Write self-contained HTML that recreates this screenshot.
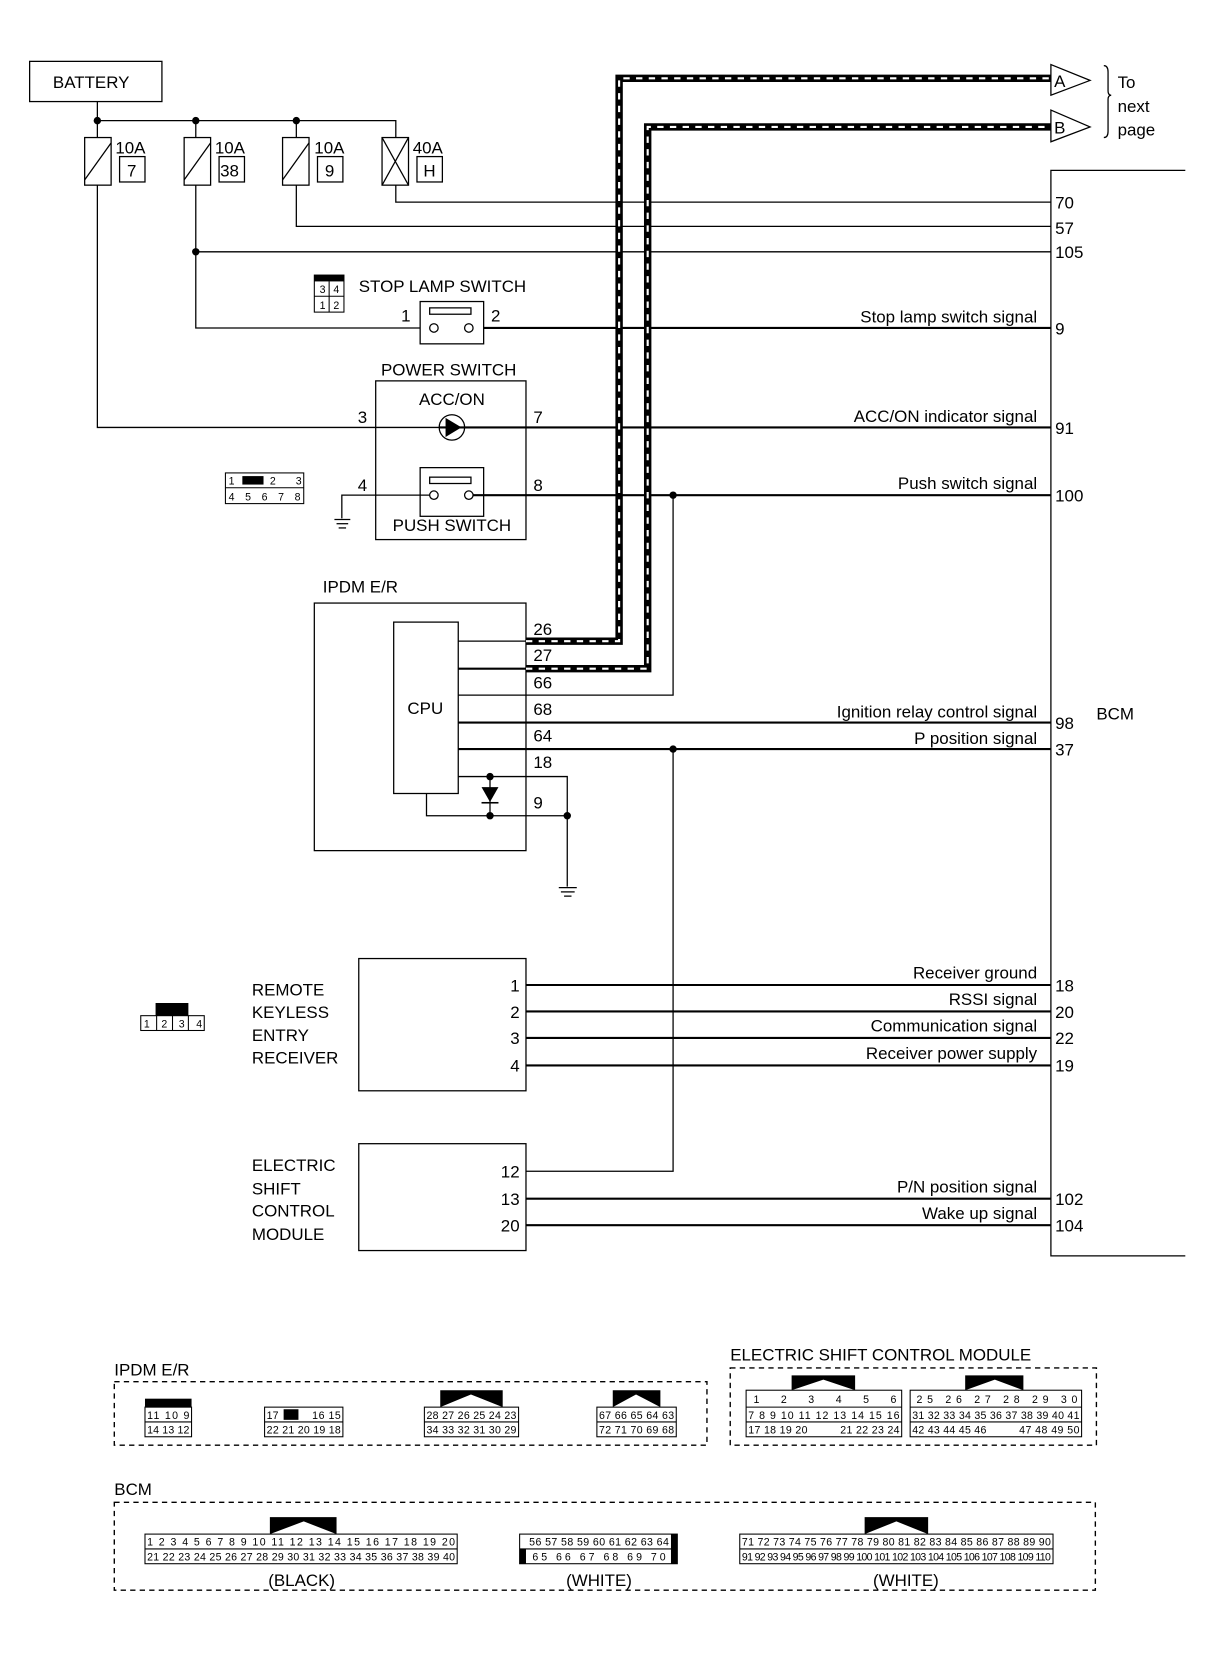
<!DOCTYPE html>
<html><head><meta charset="utf-8"><style>
html,body{margin:0;padding:0;background:#fff}
svg{display:block}
text{font-family:"Liberation Sans",Arial,sans-serif;fill:#000}
</style></head><body>
<svg width="1216" height="1660" viewBox="0 0 1149 1569" preserveAspectRatio="none" xmlns="http://www.w3.org/2000/svg">
<g fill="none" stroke="#000" stroke-width="1.2">
<rect x="28" y="58" width="125" height="38"/>
<line x1="92" y1="96" x2="92" y2="130"/>
<polyline points="92,114 374,114 374,130"/>
<line x1="185" y1="114" x2="185" y2="130"/>
<line x1="280" y1="114" x2="280" y2="130"/>
<rect x="80" y="130" width="25" height="45"/><line x1="80" y1="170" x2="105" y2="135"/>
<rect x="174" y="130" width="25" height="45"/><line x1="174" y1="170" x2="199" y2="135"/>
<rect x="267" y="130" width="25" height="45"/><line x1="267" y1="170" x2="292" y2="135"/>
<rect x="361" y="130" width="25" height="45"/><line x1="361" y1="130" x2="386" y2="175"/><line x1="386" y1="130" x2="361" y2="175"/>
<rect x="113" y="148" width="24" height="24"/>
<rect x="207" y="148" width="24" height="24"/>
<rect x="300" y="148" width="24" height="24"/>
<rect x="394" y="148" width="24" height="24"/>
<polyline points="374,175 374,191 993,191"/>
<polyline points="280,175 280,214 993,214"/>
<polyline points="185,175 185,310 397,310"/>
<line x1="185" y1="238" x2="993" y2="238"/>
<polyline points="92,175 92,404 415,404"/>
<polyline points="1120,161 993,161 993,1187 1120,1187"/>
<rect x="397" y="285" width="60" height="40"/>
<rect x="406" y="291" width="39" height="6"/>
<circle cx="410" cy="310" r="4"/><circle cx="443" cy="310" r="4"/>
<rect x="355" y="360" width="142" height="150"/>
<circle cx="427" cy="404" r="12"/>
<rect x="397" y="442" width="60" height="46"/>
<rect x="406" y="451" width="39" height="6"/>
<circle cx="410" cy="468" r="4"/><circle cx="443" cy="468" r="4"/>
<polyline points="406,468 323,468 323,490"/>
<line x1="316" y1="491" x2="331" y2="491"/><line x1="318" y1="495" x2="329" y2="495"/><line x1="320" y1="499" x2="327" y2="499"/>
<rect x="297" y="570" width="200" height="234"/>
<rect x="372" y="588" width="61" height="162"/>
<line x1="433" y1="606" x2="497" y2="606"/>
<polyline points="403,750 403,771 536,771"/>
<polyline points="433,734 536,734 536,838"/>
<line x1="463" y1="734" x2="463" y2="771"/>
<line x1="528" y1="839" x2="545" y2="839"/><line x1="530" y1="843" x2="543" y2="843"/><line x1="533" y1="847" x2="540" y2="847"/>
<polyline points="433,657 636,657 636,468"/>
<rect x="339" y="906" width="158" height="125"/>
<rect x="339" y="1081" width="158" height="101"/>
<polyline points="636,708 636,1107 497,1107"/>
<polygon points="993,61 1030,76 993,90"/>
<polygon points="993,104 1030,120 993,134"/>
<path d="M1043,62 q4,0 4,6 v18 q0,4 3,4 q-3,0 -3,4 v30 q0,6 -4,6"/>
</g>
<g fill="none" stroke="#000" stroke-width="2">
<line x1="457" y1="310" x2="993" y2="310"/>
<line x1="415" y1="404" x2="993" y2="404"/>
<line x1="447" y1="468" x2="993" y2="468"/>
<line x1="433" y1="632" x2="497" y2="632"/>
<line x1="433" y1="683" x2="993" y2="683"/>
<line x1="433" y1="708" x2="993" y2="708"/>
<line x1="497" y1="931" x2="993" y2="931"/>
<line x1="497" y1="956" x2="993" y2="956"/>
<line x1="497" y1="981" x2="993" y2="981"/>
<line x1="497" y1="1007" x2="993" y2="1007"/>
<line x1="497" y1="1133" x2="993" y2="1133"/>
<line x1="497" y1="1158" x2="993" y2="1158"/>
</g>
<g fill="none">
<polyline points="497,606 585,606 585,74 993,74" stroke="#000" stroke-width="7"/>
<polyline points="497,606 585,606 585,74 993,74" stroke="#fff" stroke-width="2" stroke-dasharray="6 6"/>
<polyline points="497,632 612,632 612,120 993,120" stroke="#000" stroke-width="7"/>
<polyline points="497,632 612,632 612,120 993,120" stroke="#fff" stroke-width="2" stroke-dasharray="6 6"/>
</g>
<g fill="#000">
<circle cx="92" cy="114" r="3.5"/><circle cx="185" cy="114" r="3.5"/><circle cx="280" cy="114" r="3.5"/>
<circle cx="185" cy="238" r="3.5"/><circle cx="636" cy="468" r="3.5"/><circle cx="636" cy="708" r="3.5"/>
<circle cx="463" cy="734" r="3.5"/><circle cx="463" cy="771" r="3.5"/><circle cx="536" cy="771" r="3.5"/>
<polygon points="421,395 421,413 436,404"/>
<polygon points="455,744 471,744 463,758"/>
<rect x="455" y="758" width="16" height="1.5"/>
</g>
<g font-size="16">
<text x="996" y="82">A</text><text x="996" y="126">B</text>
<text x="50" y="83">BATTERY</text>
<text x="109" y="145">10A</text><text x="120" y="167">7</text>
<text x="203" y="145">10A</text><text x="208" y="167">38</text>
<text x="297" y="145">10A</text><text x="307" y="167">9</text>
<text x="390" y="145">40A</text><text x="400" y="167">H</text>
<text x="1056" y="83">To</text><text x="1056" y="106">next</text><text x="1056" y="128">page</text>
<text x="997" y="197">70</text><text x="997" y="221">57</text><text x="997" y="244">105</text>
<text x="997" y="316">9</text><text x="997" y="410">91</text><text x="997" y="474">100</text>
<text x="997" y="689">98</text><text x="997" y="714">37</text>
<text x="997" y="937">18</text><text x="997" y="962">20</text><text x="997" y="987">22</text><text x="997" y="1013">19</text>
<text x="997" y="1139">102</text><text x="997" y="1164">104</text>
<text x="1036" y="680">BCM</text>
<g text-anchor="end">
<text x="980" y="305">Stop lamp switch signal</text>
<text x="980" y="399">ACC/ON indicator signal</text>
<text x="980" y="462">Push switch signal</text>
<text x="980" y="678">Ignition relay control signal</text>
<text x="980" y="703">P position signal</text>
<text x="980" y="925">Receiver ground</text>
<text x="980" y="950">RSSI signal</text>
<text x="980" y="975">Communication signal</text>
<text x="980" y="1001">Receiver power supply</text>
<text x="980" y="1127">P/N position signal</text>
<text x="980" y="1152">Wake up signal</text>
<text x="491" y="937">1</text><text x="491" y="962">2</text><text x="491" y="987">3</text><text x="491" y="1013">4</text>
<text x="491" y="1113">12</text><text x="491" y="1139">13</text><text x="491" y="1164">20</text>
</g>
<text x="339" y="276">STOP LAMP SWITCH</text>
<text x="379" y="304">1</text><text x="464" y="304">2</text>
<text x="360" y="355">POWER SWITCH</text>
<text x="427" y="383" text-anchor="middle">ACC/ON</text>
<text x="338" y="400">3</text><text x="504" y="400">7</text>
<text x="338" y="464">4</text><text x="504" y="464">8</text>
<text x="427" y="502" text-anchor="middle">PUSH SWITCH</text>
<text x="305" y="560">IPDM E/R</text>
<text x="385" y="675">CPU</text>
<text x="504" y="600">26</text><text x="504" y="625">27</text><text x="504" y="651">66</text>
<text x="504" y="676">68</text><text x="504" y="701">64</text><text x="504" y="726">18</text><text x="504" y="764">9</text>
<text x="238" y="941">REMOTE</text><text x="238" y="962">KEYLESS</text><text x="238" y="984">ENTRY</text><text x="238" y="1005">RECEIVER</text>
<text x="238" y="1107">ELECTRIC</text><text x="238" y="1129">SHIFT</text><text x="238" y="1150">CONTROL</text><text x="238" y="1172">MODULE</text>
<text x="108" y="1300">IPDM E/R</text>
<text x="690" y="1286">ELECTRIC SHIFT CONTROL MODULE</text>
<text x="108" y="1413">BCM</text>
<text x="285" y="1499" text-anchor="middle">(BLACK)</text>
<text x="566" y="1499" text-anchor="middle">(WHITE)</text>
<text x="856" y="1499" text-anchor="middle">(WHITE)</text>
</g>
<g fill="none" stroke="#000" stroke-width="1">
<rect x="297" y="260" width="28" height="35"/><line x1="297" y1="280" x2="325" y2="280"/><line x1="311" y1="266" x2="311" y2="295"/>
<rect x="213" y="447" width="74" height="29"/><line x1="213" y1="461" x2="287" y2="461"/>
<rect x="133" y="960" width="60" height="14"/><line x1="148" y1="960" x2="148" y2="974"/><line x1="163" y1="960" x2="163" y2="974"/><line x1="178" y1="960" x2="178" y2="974"/>
</g>
<rect x="297" y="260" width="28" height="6" fill="#000"/>
<rect x="229" y="450" width="20" height="8" fill="#000"/>
<polygon points="147,960 147,948 178,948 178,960" fill="#000"/>
<g font-size="10">
<text x="302" y="277">3</text><text x="315" y="277">4</text><text x="302" y="292">1</text><text x="315" y="292">2</text>
<text x="216" y="458">1</text><text x="255" y="458" textLength="30">2 3</text>
<text x="216" y="473" textLength="68">4 5 6 7 8</text>
<text x="136" y="971" textLength="55">1 2 3 4</text>
</g>
<g fill="none" stroke="#000" stroke-width="1.3" stroke-dasharray="5 4">
<rect x="108" y="1306" width="560" height="60"/>
<rect x="690" y="1293" width="346" height="73"/>
<rect x="108" y="1420" width="927" height="83"/>
</g>
<g fill="none" stroke="#000" stroke-width="1">
<rect x="137" y="1330" width="44" height="28"/><line x1="137" y1="1344" x2="181" y2="1344"/>
<rect x="250" y="1330" width="74" height="28"/><line x1="250" y1="1344" x2="324" y2="1344"/>
<rect x="401" y="1330" width="89" height="28"/><line x1="401" y1="1344" x2="490" y2="1344"/>
<rect x="564" y="1330" width="75" height="28"/><line x1="564" y1="1344" x2="639" y2="1344"/>
<rect x="705" y="1314" width="147" height="44"/><line x1="705" y1="1330" x2="852" y2="1330"/><line x1="705" y1="1344" x2="852" y2="1344"/>
<rect x="860" y="1314" width="162" height="44"/><line x1="860" y1="1330" x2="1022" y2="1330"/><line x1="860" y1="1344" x2="1022" y2="1344"/>
<rect x="137" y="1450" width="295" height="28"/><line x1="137" y1="1464" x2="432" y2="1464"/>
<rect x="491" y="1450" width="149" height="28"/><line x1="491" y1="1464" x2="640" y2="1464"/>
<rect x="699" y="1450" width="296" height="28"/><line x1="699" y1="1464" x2="995" y2="1464"/>
</g>
<g fill="#000">
<rect x="137" y="1322" width="44" height="8"/>
<rect x="268" y="1332" width="14" height="10"/>
<polygon points="416,1330 416,1314 475,1314 475,1330 445,1318"/>
<polygon points="579,1330 579,1314 624,1314 624,1330 601,1318"/>
<polygon points="748,1314 748,1300 808,1300 808,1314 778,1304"/>
<polygon points="912,1314 912,1300 967,1300 967,1314 940,1304"/>
<polygon points="255,1450 255,1434 318,1434 318,1450 287,1438"/>
<polygon points="817,1450 817,1434 877,1434 877,1450 847,1438"/>
<rect x="491" y="1464" width="6" height="14"/><rect x="634" y="1450" width="6" height="28"/>
</g>
<g font-size="10">
<text x="139" y="1341" textLength="40">11 10 9</text><text x="139" y="1355" textLength="40">14 13 12</text>
<text x="252" y="1341">17</text><text x="295" y="1341" textLength="27">16 15</text>
<text x="252" y="1355" textLength="70">22 21 20 19 18</text>
<text x="403" y="1341" textLength="85">28 27 26 25 24 23</text><text x="403" y="1355" textLength="85">34 33 32 31 30 29</text>
<text x="566" y="1341" textLength="71">67 66 65 64 63</text><text x="566" y="1355" textLength="71">72 71 70 69 68</text>
<text x="712" y="1326" textLength="135">1    2  3  4  5    6</text>
<text x="707" y="1341" textLength="143">7 8 9 10 11 12 13 14 15 16</text>
<text x="707" y="1355" textLength="56">17 18 19 20</text><text x="794" y="1355" textLength="56">21 22 23 24</text>
<text x="866" y="1326" textLength="152">25   26   27   28   29   30</text>
<text x="862" y="1341" textLength="158">31 32 33 34 35 36 37 38 39 40 41</text>
<text x="862" y="1355" textLength="70">42 43 44 45 46</text><text x="963" y="1355" textLength="57">47 48 49 50</text>
<text x="139" y="1461" textLength="291">1 2 3 4 5 6 7 8 9 10 11 12 13 14 15 16 17 18 19 20</text>
<text x="139" y="1475" textLength="291">21 22 23 24 25 26 27 28 29 30 31 32 33 34 35 36 37 38 39 40</text>
<text x="500" y="1461" textLength="132">56 57 58 59 60 61 62 63 64</text>
<text x="503" y="1475" textLength="126">65   66   67   68   69   70</text>
<text x="701" y="1461" textLength="292">71 72 73 74 75 76 77 78 79 80 81 82 83 84 85 86 87 88 89 90</text>
<text x="701" y="1475" textLength="292">91 92 93 94 95 96 97 98 99 100 101 102 103 104 105 106 107 108 109 110</text>
</g>
</svg>
</body></html>
